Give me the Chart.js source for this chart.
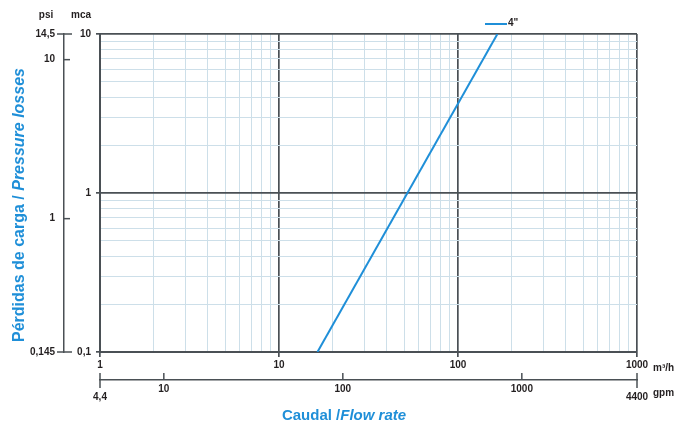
<!DOCTYPE html>
<html>
<head>
<meta charset="utf-8">
<title>Pérdidas de carga / Pressure losses</title>
<script src="https://cdn.jsdelivr.net/npm/chart.js@4.4.0/dist/chart.umd.min.js"></script>
<style>
  html, body { margin: 0; padding: 0; background: #fff; }
  #wrap { position: relative; width: 690px; height: 426px; }
</style>
</head>
<body>
<div id="wrap"><canvas id="lossChart"></canvas></div>
<script>
// 4" curve (flow in m3/h, loss in mca)
const flowM3h = [16.4, 166];
const lossMca = [0.1, 10];
const seriesLabel = '4"';

// grid lines (log decades with their 2..9 subdivisions)
const flowGrid = [1, 2, 3, 4, 5, 6, 7, 8, 9,
  10, 20, 30, 40, 50, 60, 70, 80, 90,
  100, 200, 300, 400, 500, 600, 700, 800, 900, 1000];
const lossGrid = [0.1, 0.2, 0.3, 0.4, 0.5, 0.6, 0.7, 0.8, 0.9,
  1, 2, 3, 4, 5, 6, 7, 8, 9, 10];

// labelled ticks
const flowLabels = [1, 10, 100, 1000];
const lossLabels = [0.1, 1, 10];
const gpmTicks = [4.4, 10, 100, 1000, 4400];
const psiTicks = [0.145, 1, 10, 14.5];

const FONT = 'Arial, "Liberation Sans", Helvetica, sans-serif';
const BLUE = '#1f8fd8';
const DARK = '#4a5055';
const MINOR = '#cddfe9';
const INK = '#231f20';

function isDecade(v) {
  const l = Math.log10(v);
  return Math.abs(l - Math.round(l)) < 1e-9;
}

function fmt(v) {
  return String(v).replace('.', ',');
}

const tickFont = { family: FONT, size: 10, weight: 'bold' };

// extra bits: tick marks on secondary axes, units, legend, axis titles
const extrasPlugin = {
  id: 'extras',
  afterDraw(chart) {
    const ctx = chart.ctx;
    const psi = chart.scales.psi;
    const gpm = chart.scales.gpm;
    ctx.save();
    ctx.strokeStyle = DARK;
    ctx.lineWidth = 1.5;

    // psi tick marks
    psiTicks.forEach((v, i) => {
      const y = psi.getPixelForValue(v);
      const edge = i === 0 || i === psiTicks.length - 1;
      ctx.beginPath();
      ctx.moveTo(edge ? psi.right - 7 : psi.right, y);
      ctx.lineTo(edge ? psi.right + 8 : psi.right + 6, y);
      ctx.stroke();
    });

    // gpm tick marks
    gpmTicks.forEach((v, i) => {
      const x = gpm.getPixelForValue(v);
      const edge = i === 0 || i === gpmTicks.length - 1;
      ctx.beginPath();
      ctx.moveTo(x, gpm.top - 7);
      ctx.lineTo(x, edge ? gpm.top + 8 : gpm.top);
      ctx.stroke();
    });

    // units
    ctx.fillStyle = INK;
    ctx.font = 'bold 10px ' + FONT;
    ctx.textBaseline = 'middle';
    ctx.textAlign = 'center';
    ctx.fillText('psi', 46, 15);
    ctx.fillText('mca', 81, 15);
    ctx.textAlign = 'left';
    ctx.fillText('m³/h', 653, 368);
    ctx.fillText('gpm', 653, 393);

    // legend
    ctx.strokeStyle = BLUE;
    ctx.lineWidth = 2;
    ctx.beginPath();
    ctx.moveTo(485, 24);
    ctx.lineTo(507, 24);
    ctx.stroke();
    ctx.fillText(seriesLabel, 508, 23);

    // axis titles, bold with italic english part
    ctx.fillStyle = BLUE;

    const yNormal = 'bold 16px ' + FONT;
    const yItalic = 'italic bold 16px ' + FONT;
    const yA = 'Pérdidas de carga / ';
    const yB = 'Pressure losses';
    ctx.font = yNormal;
    const wA = ctx.measureText(yA).width;
    ctx.font = yItalic;
    const wB = ctx.measureText(yB).width;
    ctx.save();
    ctx.translate(20, 205);
    ctx.rotate(-Math.PI / 2);
    ctx.textAlign = 'left';
    ctx.font = yNormal;
    ctx.fillText(yA, -(wA + wB) / 2, 0);
    ctx.font = yItalic;
    ctx.fillText(yB, -(wA + wB) / 2 + wA, 0);
    ctx.restore();

    const xNormal = 'bold 15px ' + FONT;
    const xItalic = 'italic bold 15px ' + FONT;
    const xA = 'Caudal /';
    const xB = 'Flow rate';
    ctx.font = xNormal;
    const vA = ctx.measureText(xA).width;
    ctx.font = xItalic;
    const vB = ctx.measureText(xB).width;
    const x0 = 344 - (vA + vB) / 2;
    ctx.font = xNormal;
    ctx.fillText(xA, x0, 416);
    ctx.font = xItalic;
    ctx.fillText(xB, x0 + vA, 416);

    ctx.restore();
  }
};

const ctx = document.getElementById('lossChart').getContext('2d');

new Chart(ctx, {
  type: 'line',
  data: {
    datasets: [{
      label: seriesLabel,
      data: flowM3h.map((q, i) => ({ x: q, y: lossMca[i] })),
      borderColor: BLUE,
      borderWidth: 2,
      pointRadius: 0,
      fill: false,
      tension: 0
    }]
  },
  options: {
    responsive: true,
    maintainAspectRatio: false,
    animation: false,
    layout: { padding: { top: 34, right: 53, bottom: 0, left: 0 } },
    plugins: {
      legend: { display: false },
      tooltip: { enabled: false }
    },
    scales: {
      x: {
        type: 'logarithmic',
        position: 'bottom',
        weight: 0,
        min: 1,
        max: 1000,
        afterBuildTicks: s => { s.ticks = flowGrid.map(v => ({ value: v })); },
        afterFit: s => { s.height = 28; },
        grid: {
          color: c => (c.tick && isDecade(c.tick.value)) ? DARK : MINOR,
          lineWidth: c => (c.tick && isDecade(c.tick.value)) ? 1.7 : 1,
          tickColor: c => (c.tick && isDecade(c.tick.value)) ? DARK : 'rgba(0,0,0,0)',
          tickLength: 5
        },
        border: { color: DARK, width: 2 },
        ticks: {
          autoSkip: false,
          maxRotation: 0,
          padding: 2,
          color: INK,
          font: tickFont,
          callback: v => flowLabels.includes(v) ? fmt(v) : ''
        }
      },
      gpm: {
        type: 'logarithmic',
        axis: 'x',
        position: 'bottom',
        weight: 1,
        min: 4.4,
        max: 4400,
        afterBuildTicks: s => { s.ticks = gpmTicks.map(v => ({ value: v })); },
        afterFit: s => { s.height = 46; },
        grid: { drawOnChartArea: false, drawTicks: false },
        border: { color: DARK, width: 1.5 },
        ticks: {
          autoSkip: false,
          maxRotation: 0,
          padding: 5,
          color: INK,
          font: { family: FONT, size: 10, weight: 'bold', lineHeight: 0.8 },
          callback: (v, i) => (i === 0 || i === gpmTicks.length - 1) ? ['', fmt(v)] : fmt(v)
        }
      },
      y: {
        type: 'logarithmic',
        position: 'left',
        weight: 0,
        min: 0.1,
        max: 10,
        afterBuildTicks: s => { s.ticks = lossGrid.map(v => ({ value: v })); },
        afterFit: s => { s.width = 36; },
        grid: {
          color: c => (c.tick && isDecade(c.tick.value)) ? DARK : MINOR,
          lineWidth: c => (c.tick && isDecade(c.tick.value)) ? 1.7 : 1,
          tickColor: c => (c.tick && isDecade(c.tick.value)) ? DARK : 'rgba(0,0,0,0)',
          tickLength: 4
        },
        border: { color: DARK, width: 2 },
        ticks: {
          autoSkip: false,
          padding: 5,
          color: INK,
          font: tickFont,
          callback: v => lossLabels.includes(v) ? fmt(v) : ''
        }
      },
      psi: {
        type: 'logarithmic',
        axis: 'y',
        position: 'left',
        weight: 1,
        min: 0.145,
        max: 14.5,
        afterBuildTicks: s => { s.ticks = psiTicks.map(v => ({ value: v })); },
        afterFit: s => { s.width = 64; },
        grid: { drawOnChartArea: false, drawTicks: false },
        border: { color: DARK, width: 1.5 },
        ticks: {
          autoSkip: false,
          padding: 9,
          color: INK,
          font: tickFont,
          callback: v => fmt(v)
        }
      }
    }
  },
  plugins: [extrasPlugin]
});
</script>
</body>
</html>
